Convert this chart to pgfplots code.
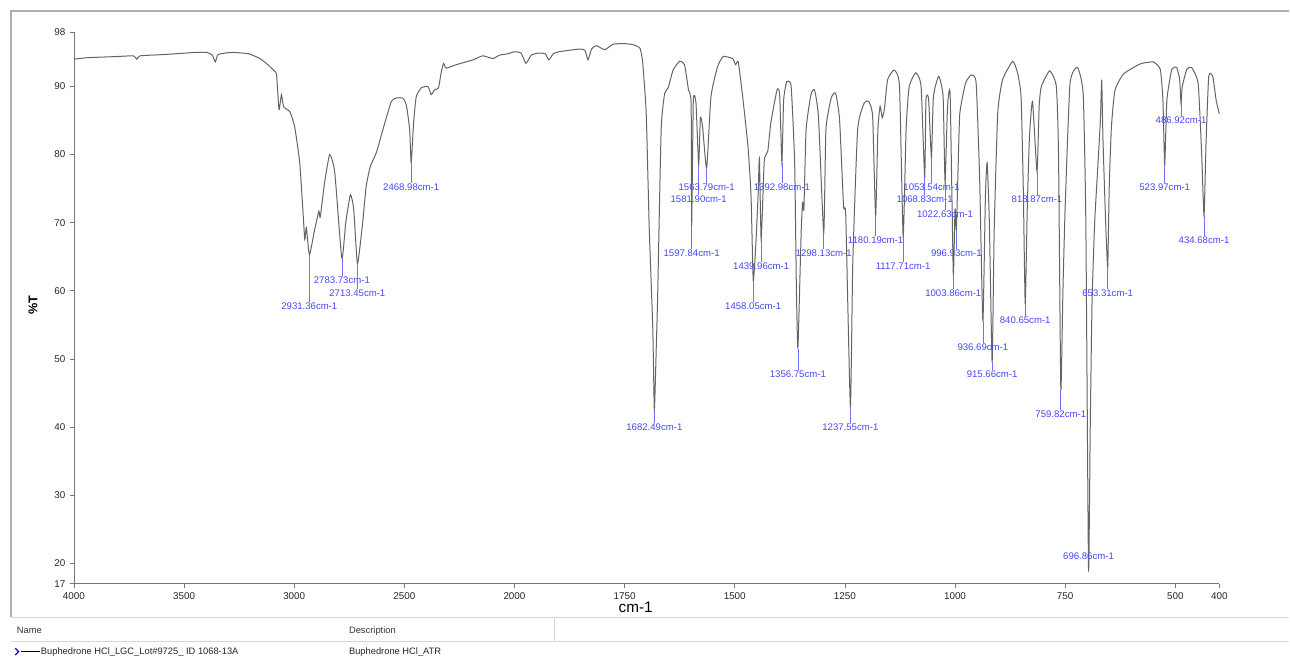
\documentclass[border=0pt]{standalone}
\usepackage{pgfplots}
\pgfplotsset{compat=1.18}
\usepackage{fontspec}
\setmainfont{Liberation Sans}
\definecolor{curve}{RGB}{100,100,100}
\definecolor{pkline}{RGB}{110,110,255}
\definecolor{pktext}{RGB}{70,70,255}
\definecolor{axgray}{RGB}{120,120,120}
\definecolor{framec}{RGB}{175,175,175}
\definecolor{hdrline}{RGB}{215,215,215}
\newcommand\pk[3]{\draw[pkline,line width=0.5pt] (axis cs:#1,#2) -- (axis cs:#1,#3);
  \node[pktext,anchor=north,inner sep=0.4pt,font=\fontsize{7.2}{8}\selectfont] at (axis cs:#1,#3) {#1cm-1};}
\begin{document}
\begin{tikzpicture}
\path (0pt,0pt) rectangle (967.5pt,-494.25pt);
% outer frame
\draw[framec,line width=1.1pt] (8.25pt,-463pt) -- (8.25pt,-8.25pt) -- (967.5pt,-8.25pt);
\begin{axis}[
  at={(55.5pt,-438pt)}, anchor=south west,
  width=859.5pt, height=414pt, scale only axis,
  x coord trafo/.code={\pgfmathparse{ifthenelse(#1<2000,3000-#1,(4000-#1)/2)}},
  xmin=4000, xmax=400, ymin=17, ymax=98,
  xtick={4000,3500,3000,2500,2000,1750,1500,1250,1000,750,500,400},
  xticklabels={4000,3500,3000,2500,2000,1750,1500,1250,1000,750,500,400},
  ytick={17,20,30,40,50,60,70,80,90,98},
  axis x line=bottom, axis y line=left,
  axis line style={axgray,-,line width=0.6pt},
  tick align=outside, major tick length=3pt,
  tick style={axgray,line width=0.5pt},
  tick label style={font=\fontsize{7.4}{8}\selectfont, text=black!85},
  /pgf/number format/assume math mode=true,
  clip=false,
]
\addplot[curve, line width=0.75pt, smooth, tension=0.3] coordinates {
(4000,94.0)(3950,94.2)(3884,94.3)(3800,94.4)(3730,94.5)(3714,94.0)(3700,94.5)(3584,94.7)(3450,95.0)(3397,95.0)(3372,94.6)(3358,93.6)(3345,94.7)(3283,95.0)(3207,94.8)(3156,94.1)(3120,93.2)(3088,92.2)(3080,91.7)(3069,86.6)(3058,88.8)(3048,87.0)(3020,86.3)(2998,84.1)(2975,78.8)(2960,71.5)(2952,67.5)(2945,69.3)(2931,65.3)(2907,69.0)(2888,71.7)(2882,70.8)(2862,75.9)(2839,80.0)(2816,77.4)(2784,64.8)(2766,70.0)(2745,74.1)(2730,72.0)(2713,64.0)(2691,69.5)(2673,75.4)(2654,78.3)(2627,80.3)(2597,83.7)(2559,87.8)(2537,88.3)(2507,88.3)(2491,87.3)(2476,83.7)(2469,78.8)(2458,84.7)(2446,88.5)(2423,89.8)(2393,90.0)(2378,88.8)(2363,89.5)(2345,89.8)(2333,92.0)(2322,93.4)(2310,92.7)(2264,93.2)(2189,93.9)(2144,94.5)(2098,94.1)(2068,94.6)(2030,94.8)(2000,95.1)(1985,94.9)(1974,93.4)(1962,94.6)(1946,94.9)(1930,94.8)(1922,93.9)(1912,94.8)(1899,95.1)(1852,95.5)(1840,95.3)(1833,93.9)(1825,95.5)(1814,96.0)(1795,95.4)(1776,96.2)(1750,96.3)(1729,96.1)(1715,95.6)(1709,93.5)(1701,86.1)(1694,69.0)(1686,54.4)(1682.5,42.5)(1678,52.0)(1675,59.2)(1667,83.7)(1659,89.0)(1651,89.8)(1640,92.4)(1625,93.7)(1614,93.2)(1605,89.5)(1599,87.5)(1597.8,69.5)(1594,88.0)(1588,87.6)(1581.9,78.5)(1578,85.4)(1573,84.1)(1563.8,78.0)(1554,88.5)(1539,92.9)(1526,94.4)(1505,94.1)(1498,93.2)(1492,93.6)(1482,88.5)(1470,81.2)(1463,73.9)(1458,61.5)(1452,67.0)(1447,74.0)(1444,79.5)(1440,67.5)(1433,79.0)(1425,80.5)(1418,84.7)(1404,89.5)(1398,88.8)(1393,78.8)(1389,88.0)(1382,90.7)(1372,90.0)(1364,78.8)(1360,60.0)(1356.7,51.5)(1352,62.0)(1349,69.0)(1346,73.0)(1343,72.0)(1338,83.7)(1327,88.8)(1319,89.5)(1310,85.6)(1298,68.5)(1293,83.7)(1281,88.3)(1271,89.0)(1262,85.1)(1253,72.4)(1248,71.0)(1237.5,43.0)(1232,64.2)(1221,83.7)(1206,87.6)(1196,87.8)(1187,85.6)(1180.2,71.0)(1175,83.7)(1170,87.1)(1165,85.4)(1160,86.8)(1153,91.0)(1138,92.4)(1126,90.0)(1117.7,68.0)(1111,83.7)(1104,90.0)(1089,92.0)(1077,90.0)(1068.8,76.6)(1066,88.0)(1060,88.2)(1053.5,79.5)(1049,88.5)(1037,91.5)(1027,88.5)(1022.6,76.0)(1017,87.0)(1011,88.8)(1003.9,62.5)(1000,72.0)(996.9,69.0)(993,78.0)(989,86.1)(976,90.5)(963,91.7)(952,90.5)(944,76.3)(936.7,55.5)(931,73.9)(927,78.8)(922,70.0)(915.7,49.5)(911,69.0)(903,86.1)(892,91.0)(869,93.7)(858,92.0)(850,88.5)(845,75.0)(840.6,58.0)(836,72.0)(831,82.6)(824,87.8)(813.9,77.5)(809,87.0)(804,90.0)(785,92.3)(770,90.0)(765,80.0)(759.8,45.5)(755,60.0)(750,72.1)(739,90.4)(722,92.8)(709,88.9)(703,70.0)(696.9,19.0)(693,40.0)(689,58.0)(683,70.0)(676,78.0)(670,85.0)(667,91.0)(664,82.0)(658,70.0)(653.3,63.5)(650,75.0)(645,84.0)(637,89.4)(618,91.8)(580,93.3)(550,93.6)(534,92.5)(528,88.0)(524,78.5)(519,88.0)(508,92.5)(497,92.8)(490,91.0)(486.9,87.5)(484,90.0)(474,92.5)(463,92.8)(448,90.4)(440,80.0)(434.7,71.0)(430,82.0)(424,91.5)(415,91.5)(407,87.9)(400,86.0)
};
\pk{2931.36}{65.3}{58.3}
\pk{2783.73}{64.8}{62.1}
\pk{2713.45}{64.0}{60.2}
\pk{2468.98}{78.8}{75.9}
\pk{1682.49}{42.5}{40.6}
\pk{1597.84}{69.5}{66.1}
\pk{1581.90}{78.5}{74.0}
\pk{1563.79}{78.0}{75.9}
\pk{1458.05}{61.5}{58.3}
\pk{1439.96}{67.5}{64.2}
\pk{1392.98}{78.8}{75.9}
\pk{1356.75}{51.5}{48.4}
\pk{1298.13}{68.5}{66.1}
\pk{1237.55}{43.0}{40.6}
\pk{1180.19}{71.0}{68.0}
\pk{1117.71}{68.0}{64.2}
\pk{1068.83}{76.6}{74.0}
\pk{1053.54}{79.5}{75.9}
\pk{1022.63}{76.0}{71.9}
\pk{996.93}{69.0}{66.1}
\pk{1003.86}{62.5}{60.2}
\pk{936.69}{55.5}{52.3}
\pk{915.66}{49.5}{48.4}
\pk{840.65}{58.0}{56.3}
\pk{813.87}{77.5}{74.0}
\pk{759.82}{45.5}{42.5}
\pk{653.31}{63.5}{60.2}
\pk{523.97}{78.5}{75.9}
\pk{486.92}{87.5}{85.6}
\pk{434.68}{71.0}{68.0}
\node[pktext,inner sep=0.4pt,font=\fontsize{7.2}{8}\selectfont] at (axis cs:696.86,21.0) {696.86cm-1};
\end{axis}
% axis titles
\node[font=\fontsize{11.5}{12}\selectfont] at (477pt,-455.5pt) {cm-1};
\node[font=\bfseries\fontsize{9.5}{10}\selectfont,rotate=90] at (24.75pt,-228.75pt) {\%T};
% table below
\draw[hdrline,line width=0.6pt] (8.25pt,-463.5pt) -- (967.5pt,-463.5pt);
\draw[hdrline,line width=0.6pt] (8.25pt,-481.5pt) -- (967.5pt,-481.5pt);
\draw[hdrline,line width=0.6pt] (416.25pt,-463.5pt) -- (416.25pt,-481.5pt);
\node[anchor=west,inner sep=0pt,font=\fontsize{7}{8}\selectfont,text=black!80] at (12.5pt,-473.25pt) {Name};
\node[anchor=west,inner sep=0pt,font=\fontsize{7}{8}\selectfont,text=black!80] at (261.75pt,-473.25pt) {Description};
\draw[blue!80!black,line width=1pt] (11.5pt,-486.5pt) -- (14pt,-489pt) -- (11.5pt,-491.5pt);
\draw[black,line width=0.6pt] (16pt,-489pt) -- (30pt,-489pt);
\node[anchor=west,inner sep=0pt,font=\fontsize{7}{8}\selectfont,text=black!85] at (30.5pt,-489pt) {Buphedrone HCl\_LGC\_Lot\#9725\_ ID 1068-13A};
\node[anchor=west,inner sep=0pt,font=\fontsize{7}{8}\selectfont,text=black!85] at (261.75pt,-489pt) {Buphedrone HCl\_ATR};
\end{tikzpicture}
\end{document}
